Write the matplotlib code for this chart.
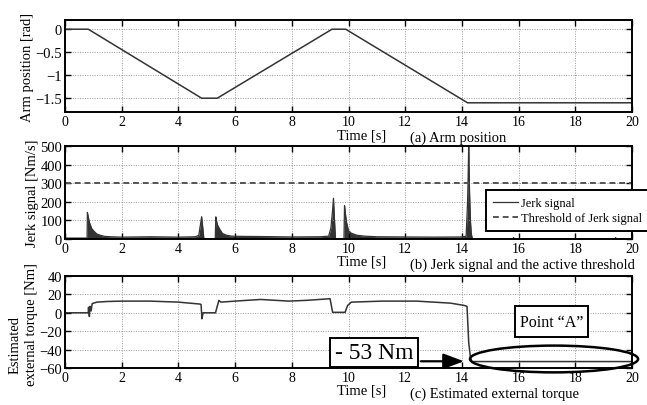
import matplotlib
matplotlib.use("Agg")
import matplotlib.pyplot as plt
from matplotlib.patches import Rectangle, Ellipse

plt.rcParams.update({
    "font.family": ["Liberation Serif", "DejaVu Serif"],
    "font.size": 10.5,
    "xtick.direction": "in",
    "ytick.direction": "in",
    "xtick.top": True,
    "ytick.right": True,
    "xtick.major.size": 4,
    "ytick.major.size": 4,
    "xtick.labelsize": 10,
    "axes.linewidth": 1.4,
})

W, H = 647, 406
LINE = "#333333"

# arm trajectory (rad)
arm_t = [0, 0.82, 4.82, 5.37, 9.42, 9.9, 14.2, 20]
arm_pos = [0, 0, -1.5, -1.5, 0, 0, -1.6, -1.6]

# jerk signal (Nm/s) and collision threshold
jerk_t = [0, 0.78, 0.79, 0.82, 0.86, 0.94, 1.02, 1.12, 1.25, 1.4, 1.6, 2.0, 3.0,
          4.0, 4.6, 4.72, 4.78, 4.82, 4.86, 4.9, 5.3, 5.32, 5.34, 5.38, 5.45, 5.55,
          5.7, 5.9, 6.3, 7.0, 8.0, 9.0, 9.3, 9.38, 9.43, 9.47, 9.5, 9.54, 9.84,
          9.86, 9.88, 9.93, 10.0, 10.1, 10.3, 10.6, 11.0, 12.0, 13.0, 14.0, 14.15,
          14.2, 14.22, 14.24, 14.27, 14.3, 14.33, 14.37, 15.8, 15.82, 15.85, 19.4,
          19.42, 19.45, 20]
jerk_val = [5, 5, 143, 120, 90, 57, 42, 27, 20, 14, 12, 10, 12,
            10, 12, 20, 80, 120, 60, 0, 0, 119, 100, 75, 55, 30,
            20, 15, 14, 13, 11, 12, 15, 60, 140, 219, 120, 0, 0,
            179, 150, 90, 45, 31, 20, 15, 12, 11, 10, 11, 15,
            200, 333, 510, 250, 100, 30, 0, 0, 8, 0, 0,
            8, 0, 0]
threshold = 300

# estimated external torque (Nm)
tq_t = [0, 0.82, 0.83, 0.86, 0.88, 0.92, 0.96, 1.12, 1.5, 2.0, 3.0, 4.0, 4.76,
        4.8, 4.83, 4.87, 5.31, 5.36, 5.43, 5.5, 6.0, 6.9, 7.9, 8.5, 9.35, 9.44,
        9.88, 9.92, 9.97, 10.1, 11.2, 12.4, 13.6, 14.08, 14.18, 14.24, 14.3,
        14.35, 20]
tq_val = [0, 0, 6, -4, 7, 2, 10, 11.6, 12.3, 12.7, 12.7, 11.6, 9.5,
          9, -6.5, 0, 0, 6, 13.5, 11.6, 12.7, 14.5, 12.7, 13.5, 15.3, 0.5,
          0.5, 4, 8, 11.6, 12.7, 12.7, 10.5, 8, 7, -32, -48,
          -53, -53]
collision_torque = -53

x_ticks = [0, 2, 4, 6, 8, 10, 12, 14, 16, 18, 20]


def px_axes(fig, left, top, right, bottom):
    return fig.add_axes([left / W, 1 - bottom / H, (right - left) / W, (bottom - top) / H])


def style(ax):
    ax.set_xlim(0, 20)
    ax.set_xticks(x_ticks)
    ax.grid(True, linestyle=(0, (1, 1.5)), color="#999999", linewidth=0.7)
    ax.tick_params(axis="both", pad=2, width=1)


def caption(fig, bottom, text):
    fig.text(337 / W, 1 - (bottom + 22.5) / H, "Time [s]", ha="left", va="center")
    fig.text(410 / W, 1 - (bottom + 25.5) / H, text, ha="left", va="center")


fig = plt.figure(figsize=(W / 100, H / 100), dpi=100)

# ---- (a) arm position ----
ax = px_axes(fig, 65, 21, 632, 113)
ax.plot(arm_t, arm_pos, color=LINE, linewidth=1.1)
ax.set_ylim(-1.8, 0.2)
ax.set_yticks([0, -0.5, -1, -1.5])
ax.set_yticklabels(["0", "\u22120.5", "\u22121", "\u22121.5"])
style(ax)
ax.set_ylabel("Arm position [rad]", labelpad=1)
caption(fig, 113, "(a) Arm position")

# ---- (b) jerk signal ----
ax = px_axes(fig, 65, 147, 632, 240)
ax.fill_between(jerk_t, 0, jerk_val, color=LINE, linewidth=0)
ax.plot(jerk_t, jerk_val, color=LINE, linewidth=0.9, label="Jerk signal")
ax.axhline(threshold, color="#555555", linewidth=1.4, linestyle=(0, (3, 2)),
           label="Threshold of Jerk signal")
ax.set_ylim(0, 500)
ax.set_yticks([0, 100, 200, 300, 400, 500])
style(ax)
ax.set_ylabel("Jerk signal [Nm/s]", labelpad=1)
leg = ax.legend(loc="upper left", bbox_to_anchor=(486 / W, 1 - 191 / H),
                bbox_transform=fig.transFigure, borderaxespad=0, fontsize=9,
                fancybox=False, framealpha=1, edgecolor="black",
                handlelength=2.0, handletextpad=0.25, labelspacing=0.25,
                borderpad=0.55)
leg.get_frame().set_linewidth(1.4)
caption(fig, 240, "(b) Jerk signal and the active threshold")

# ---- (c) estimated external torque ----
ax = px_axes(fig, 65, 277, 632, 369)
ax.plot(tq_t, tq_val, color=LINE, linewidth=1.1)
ax.set_ylim(-60, 40)
ax.set_yticks([-60, -40, -20, 0, 20, 40])
style(ax)
fig.text(15 / W, 1 - 345 / H, "Estimated", rotation=90, ha="center", va="center")
fig.text(32 / W, 1 - 325 / H, "external torque [Nm]", rotation=90, ha="center", va="center")
caption(fig, 369, "(c) Estimated external torque")

# value box and arrow pointing at the collision plateau
ax.add_patch(Rectangle((9.35, -59.2), 3.1, 31.9, facecolor="white", edgecolor="black",
                       linewidth=1.4, zorder=5, clip_on=False))
ax.text(10.9, -43.5, f"- {abs(collision_torque)} Nm", fontsize=17, ha="center",
        va="center", zorder=6)
ax.annotate("", xy=(14.17, -52.7), xytext=(12.45, -52.7),
            arrowprops=dict(arrowstyle="-|>,head_length=1.2,head_width=0.45",
                            color="black", linewidth=1.6), zorder=6)
ax.add_patch(Ellipse((17.25, -50.2), 5.93, 29.1, facecolor="none", edgecolor="black",
                     linewidth=1.8, zorder=5, clip_on=False))
ax.add_patch(Rectangle((15.87, -25.8), 2.58, 32.7, facecolor="white", edgecolor="black",
                       linewidth=1.4, zorder=5))
ax.text(17.16, -9.5, "Point \u201cA\u201d", fontsize=11.5, ha="center", va="center", zorder=6)

fig.savefig("out.png", dpi=100)
